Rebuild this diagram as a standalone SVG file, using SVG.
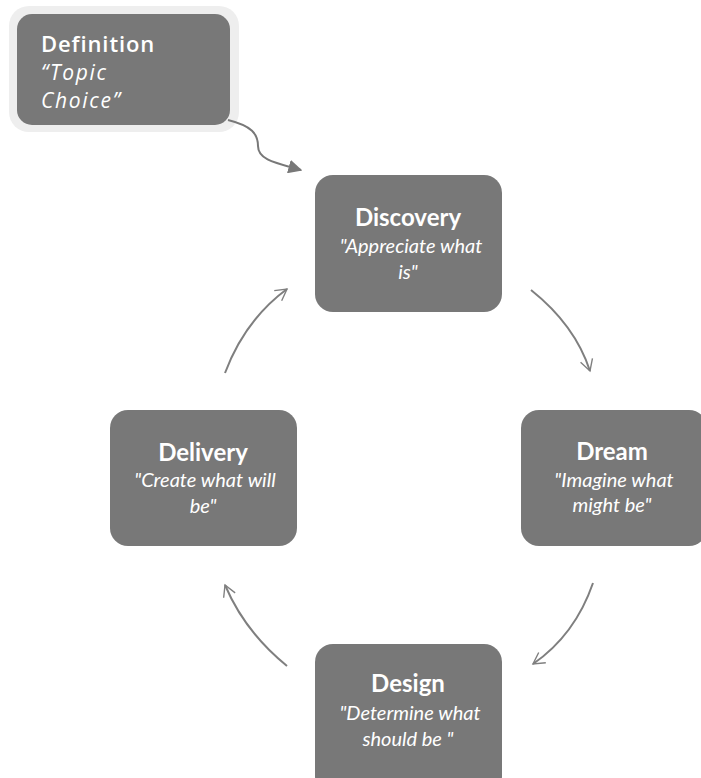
<svg xmlns="http://www.w3.org/2000/svg" width="701" height="778" viewBox="0 0 701 778">
  <style>
    .box { fill: #787878; }
    .title { font-family: Lato, "Open Sans", sans-serif; font-weight: bold; font-size: 24px; fill: #ffffff; text-anchor: middle; }
    .quote { font-family: Lato, "Open Sans", sans-serif; font-style: italic; font-size: 20px; fill: #ffffff; text-anchor: middle; }
    .deftitle { font-family: "Open Sans", sans-serif; font-weight: 600; font-size: 22px; fill: #ffffff; letter-spacing: 0.9px; }
    .defquote { font-family: "Open Sans", sans-serif; font-style: italic; font-weight: 500; font-size: 21px; fill: #ffffff; letter-spacing: 1.7px; }
    .cycle { fill: none; stroke: #7f7f7f; stroke-width: 2; marker-end: url(#open); }
  </style>
  <defs>
    <marker id="open" viewBox="0 0 12 12" refX="10" refY="6" markerWidth="15" markerHeight="15" orient="auto" markerUnits="userSpaceOnUse">
      <path d="M1,1 L10,6 L1,11" fill="none" stroke="#7f7f7f" stroke-width="1.1"/>
    </marker>
    <marker id="solid" viewBox="0 0 10 10" refX="9" refY="5" markerWidth="14" markerHeight="14" orient="auto" markerUnits="userSpaceOnUse">
      <path d="M0,0 L10,5 L0,10 Z" fill="#787878"/>
    </marker>
  </defs>
  <rect width="701" height="778" fill="#ffffff"/>

  <g id="definition">
    <rect x="9" y="6" width="230" height="126" rx="20" fill="#eeeeee"/>
    <rect x="17" y="14" width="213" height="111" rx="15" class="box"/>
    <text x="41" y="52" class="deftitle">Definition</text>
    <text x="41" y="80" class="defquote">“Topic</text>
    <text x="41" y="108" class="defquote">Choice”</text>
  </g>

  <g id="discovery">
    <rect x="315" y="175" width="187" height="137" rx="18" class="box"/>
    <text x="408" y="226" class="title">Discovery</text>
    <text x="411" y="253" class="quote">"Appreciate what</text>
    <text x="408" y="279" class="quote">is"</text>
  </g>

  <g id="dream">
    <rect x="521" y="410" width="186" height="136" rx="18" class="box"/>
    <text x="612" y="460" class="title">Dream</text>
    <text x="614" y="487" class="quote">"Imagine what</text>
    <text x="612" y="512" class="quote">might be"</text>
  </g>

  <g id="delivery">
    <rect x="110" y="410" width="187" height="136" rx="18" class="box"/>
    <text x="203" y="461" class="title">Delivery</text>
    <text x="205" y="487" class="quote">"Create what will</text>
    <text x="203" y="513" class="quote">be"</text>
  </g>

  <g id="design">
    <rect x="315" y="644" width="187" height="150" rx="18" class="box"/>
    <text x="408" y="692" class="title">Design</text>
    <text x="410" y="720" class="quote">"Determine what</text>
    <text x="408" y="746" class="quote">should be "</text>
  </g>

  <g id="connectors">
    <path d="M228,120 C252,126 258,134 258,146 C258,160 276,163 301,170" fill="none" stroke="#787878" stroke-width="2" marker-end="url(#solid)"/>
    <path d="M531,290 Q575,325 590,371" class="cycle"/>
    <path d="M593,583 Q575,635 533,664" class="cycle"/>
    <path d="M287,666 Q245,632 225,585" class="cycle"/>
    <path d="M225,373 Q245,320 287,289" class="cycle"/>
  </g>
</svg>
